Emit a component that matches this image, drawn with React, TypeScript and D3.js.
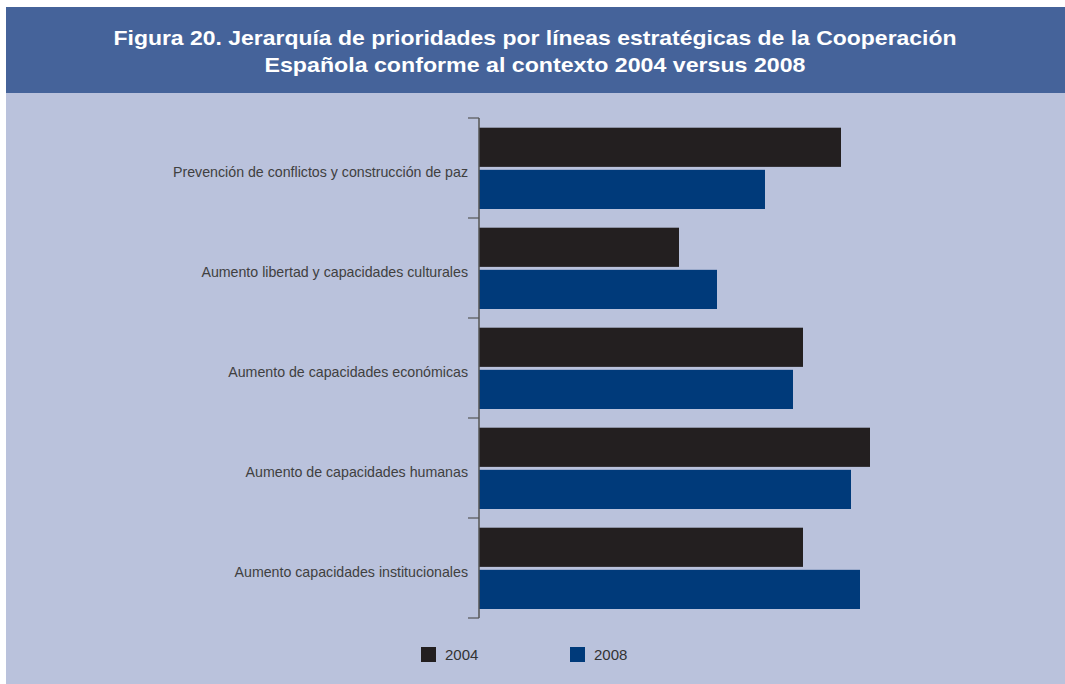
import React from "react";
import * as d3 from "d3";

const categories = [
  "Prevención de conflictos y construcción de paz",
  "Aumento libertad y capacidades culturales",
  "Aumento de capacidades económicas",
  "Aumento de capacidades humanas",
  "Aumento capacidades institucionales",
];
const series = ["2004", "2008"];
const values2004 = [3.62, 2.0, 3.24, 3.91, 3.24];
const values2008 = [2.86, 2.38, 3.14, 3.72, 3.81];
const titleLines = [
  "Figura 20. Jerarquía de prioridades por líneas estratégicas de la Cooperación",
  "Española conforme al contexto 2004 versus 2008",
];

const W = 1065;
const H = 684;
const colors = ["#231f20", "#003a7a"];

export default function App() {
  const x = d3.scaleLinear().domain([0, 5]).range([479, 979]);
  const y = d3.scaleBand().domain(categories).range([118, 618]).paddingInner(0).paddingOuter(0);
  const inner = d3.scaleBand().domain(series).range([9.7, 91]).paddingInner(0.07);
  const data = [values2004, values2008];
  const ticks = d3.range(categories.length + 1).map((i) => 118 + i * y.bandwidth());

  return (
    <svg width={W} height={H} style={{ position: "absolute", left: 0, top: 0 }}>
      <rect x={6} y={7} width={W - 6} height={H - 7} fill="#bac2dc" />
      <rect x={6} y={7} width={W - 6} height={86} fill="#45639a" />
      {titleLines.map((t, i) => (
        <text
          key={i}
          x={535}
          y={45 + i * 27}
          textAnchor="middle"
          fill="#fff"
          fontFamily="Liberation Sans, Arial, sans-serif"
          fontWeight="bold"
          fontSize={21}
          textLength={i === 0 ? 843 : 541}
          lengthAdjust="spacingAndGlyphs"
        >
          {t}
        </text>
      ))}
      {categories.map((c, ci) => (
        <g key={c}>
          {series.map((s, si) => (
            <rect
              key={s}
              x={x(0)}
              y={(y(c) as number) + (inner(s) as number)}
              width={x(data[si][ci]) - x(0)}
              height={inner.bandwidth()}
              fill={colors[si]}
            />
          ))}
          <text
            x={468}
            y={(y(c) as number) + y.bandwidth() / 2 + 9}
            textAnchor="end"
            fill="#404040"
            fontFamily="Liberation Sans, Arial, sans-serif"
            fontSize={14.2}
          >
            {c}
          </text>
        </g>
      ))}
      <line x1={479} x2={479} y1={118} y2={618} stroke="#555" strokeWidth={1.5} />
      {ticks.map((t, i) => (
        <line key={i} x1={468} x2={479} y1={t} y2={t} stroke="#555" strokeWidth={1.2} />
      ))}
      {series.map((s, i) => (
        <g key={s} transform={`translate(${421 + i * 149},647)`}>
          <rect width={15} height={15} fill={colors[i]} />
          <text
            x={24}
            y={12.5}
            fill="#333"
            fontFamily="Liberation Sans, Arial, sans-serif"
            fontSize={15}
          >
            {s}
          </text>
        </g>
      ))}
    </svg>
  );
}
